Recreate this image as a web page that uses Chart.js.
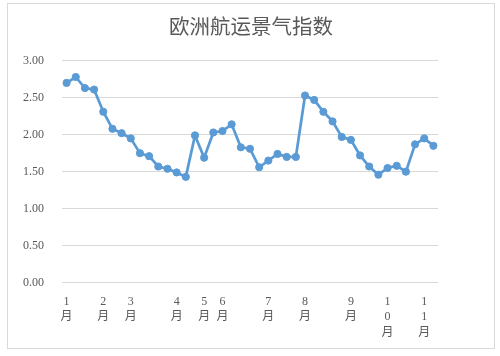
<!DOCTYPE html>
<html>
<head>
<meta charset="utf-8">
<script src="https://cdn.jsdelivr.net/npm/chart.js@4.4.1/dist/chart.umd.min.js"></script>
<style>
  html, body { margin: 0; padding: 0; background: #ffffff; }
  body { width: 500px; height: 356px; position: relative; overflow: hidden; }
  #frame { position: absolute; left: 7px; top: 3px; width: 488px; height: 346px;
           border: 1px solid #d9d9d9; box-sizing: border-box; background: #fff; }
  #wrap { position: absolute; left: 0; top: 0; width: 486px; height: 344px; }
</style>
</head>
<body>
<div id="frame"><div id="wrap"><canvas id="c"></canvas></div></div>
<script>
const chartTitle = "欧洲航运景气指数";
const categories = [
  "1月", "", "", "", "2月", "", "", "3月", "", "", "", "", "4月", "", "",
  "5月", "", "6月", "", "", "", "", "7月", "", "", "", "8月", "", "", "",
  "", "9月", "", "", "", "10月", "", "", "", "11月", ""
];
const indexValues = [
  2.70, 2.78, 2.63, 2.61, 2.31, 2.08, 2.02, 1.95, 1.75, 1.71,
  1.57, 1.54, 1.49, 1.43, 1.99, 1.69, 2.03, 2.05, 2.14, 1.83,
  1.81, 1.56, 1.65, 1.74, 1.70, 1.70, 2.53, 2.47, 2.31, 2.18,
  1.97, 1.93, 1.72, 1.57, 1.46, 1.55, 1.58, 1.50, 1.87, 1.95,
  1.85
];
const yTicks = [0, 0.5, 1.0, 1.5, 2.0, 2.5, 3.0];

const textColor = "#595959";
const lineColor = "#5B9BD5";
const tickFont = { family: "'Liberation Serif', 'Noto Sans CJK SC', serif", size: 12, lineHeight: 1.3 };

new Chart(document.getElementById("c"), {
  type: "line",
  data: {
    labels: categories,
    datasets: [{
      data: indexValues,
      borderColor: lineColor,
      backgroundColor: lineColor,
      pointBackgroundColor: lineColor,
      pointBorderColor: lineColor,
      borderWidth: 2.75,
      pointRadius: 3.6,
      pointBorderWidth: 1,
      pointHoverRadius: 3.6,
      tension: 0,
      fill: false
    }]
  },
  options: {
    responsive: true,
    maintainAspectRatio: false,
    animation: false,
    layout: { padding: { left: 0, right: 0, top: 0, bottom: 0 } },
    plugins: {
      legend: { display: false },
      tooltip: { enabled: false },
      title: {
        display: true,
        text: chartTitle,
        color: textColor,
        font: { family: "'Noto Sans CJK SC', sans-serif", size: 20.5, weight: "normal", lineHeight: 1.2 },
        padding: { top: 10, bottom: 22.1 }
      }
    },
    scales: {
      x: {
        offset: true,
        grid: { display: false, drawTicks: false },
        border: { display: false },
        ticks: {
          autoSkip: false,
          maxRotation: 0,
          minRotation: 0,
          padding: 11,
          color: textColor,
          font: tickFont,
          callback: function (v, i) {
            const s = categories[i];
            return s ? s.split("") : "";
          }
        },
        afterFit: function (scale) { scale.height = 65.3; }
      },
      y: {
        min: yTicks[0],
        max: yTicks[yTicks.length - 1],
        grid: { color: "#d9d9d9", lineWidth: 1, drawTicks: false },
        border: { display: false },
        afterBuildTicks: function (scale) { scale.ticks = yTicks.map(v => ({ value: v })); },
        ticks: {
          padding: 18,
          color: textColor,
          font: tickFont,
          callback: function (v) { return Number(v).toFixed(2); }
        },
        afterFit: function (scale) { scale.width = 54; }
      },
      yRight: {
        position: "right",
        display: true,
        grid: { display: false, drawTicks: false },
        border: { display: false },
        ticks: { display: false },
        afterFit: function (scale) { scale.width = 56; }
      }
    }
  }
});
</script>
</body>
</html>
